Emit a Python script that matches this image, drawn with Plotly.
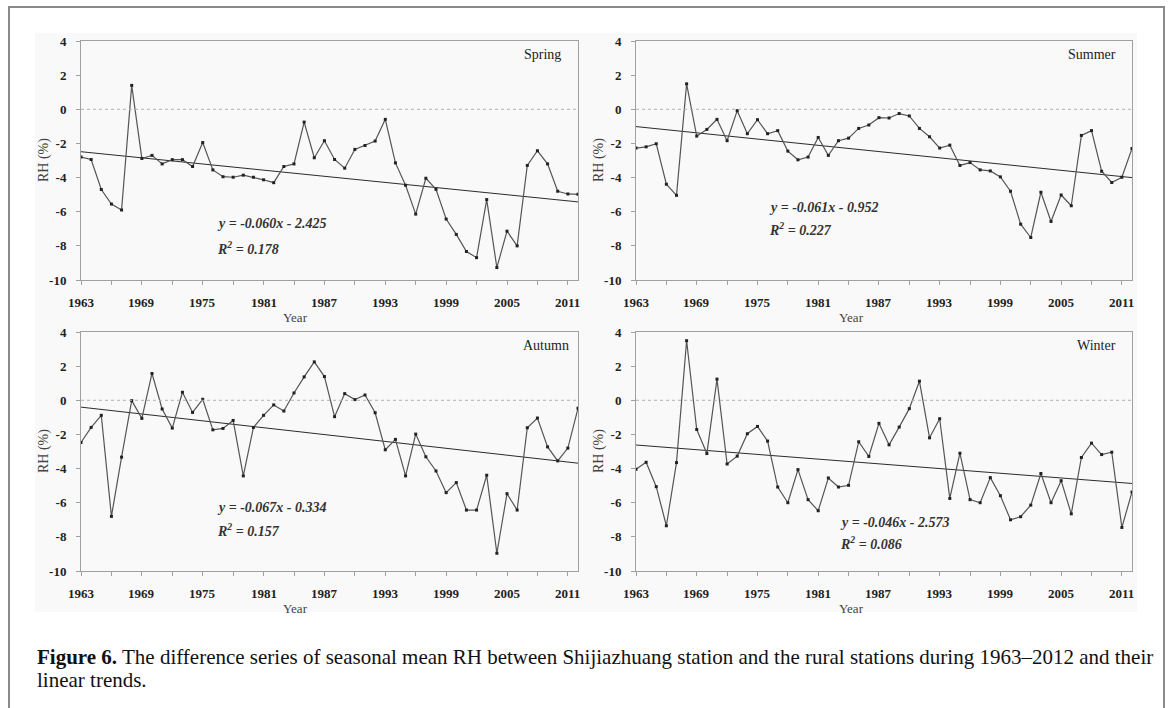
import plotly.graph_objects as go

years = list(range(1963, 2013))

spring = [-2.80, -2.94, -4.70, -5.55, -5.90, 1.40, -2.88, -2.70, -3.20, -2.95,
          -2.95, -3.35, -1.95, -3.55, -3.95, -3.98, -3.86, -3.98, -4.13, -4.30,
          -3.35, -3.20, -0.75, -2.84, -1.84, -2.94, -3.45, -2.35, -2.12, -1.86,
          -0.59, -3.14, -4.45, -6.14, -4.04, -4.69, -6.43, -7.33, -8.33, -8.69,
          -5.29, -9.27, -7.14, -8.00, -3.29, -2.43, -3.20, -4.80, -4.96, -4.98]

summer = [-2.27, -2.20, -2.02, -4.39, -5.04, 1.49, -1.57, -1.18, -0.59, -1.84,
          -0.08, -1.43, -0.61, -1.43, -1.25, -2.45, -2.96, -2.80, -1.65, -2.70,
          -1.84, -1.69, -1.12, -0.92, -0.49, -0.51, -0.25, -0.39, -1.12, -1.61,
          -2.27, -2.10, -3.29, -3.12, -3.55, -3.61, -3.96, -4.80, -6.73, -7.51,
          -4.86, -6.57, -5.02, -5.65, -1.53, -1.25, -3.63, -4.29, -3.98, -2.29]

autumn = [-2.47, -1.59, -0.88, -6.80, -3.33, -0.02, -1.06, 1.57, -0.51, -1.63,
          0.47, -0.71, 0.06, -1.73, -1.65, -1.18, -4.43, -1.59, -0.88, -0.27,
          -0.63, 0.43, 1.37, 2.25, 1.39, -0.96, 0.39, 0.04, 0.31, -0.73,
          -2.90, -2.29, -4.43, -1.98, -3.31, -4.14, -5.41, -4.82, -6.43, -6.43,
          -4.39, -8.96, -5.47, -6.43, -1.61, -1.04, -2.73, -3.55, -2.80, -0.47]

winter = [-4.04, -3.63, -5.06, -7.35, -3.65, 3.49, -1.71, -3.12, 1.24, -3.73,
          -3.27, -1.96, -1.53, -2.39, -5.08, -6.00, -4.06, -5.82, -6.47, -4.55,
          -5.08, -4.98, -2.43, -3.29, -1.35, -2.61, -1.57, -0.49, 1.12, -2.20,
          -1.08, -5.75, -3.10, -5.82, -6.00, -4.53, -5.59, -7.00, -6.82, -6.14,
          -4.29, -6.00, -4.71, -6.65, -3.35, -2.51, -3.18, -3.04, -7.45, -5.37]

season_names = ["Spring", "Summer", "Autumn", "Winter"]
slopes = [-0.060, -0.061, -0.067, -0.046]
intercepts = [-2.425, -0.952, -0.334, -2.573]
r2_values = ["0.178", "0.227", "0.157", "0.086"]

y_ticks = [4, 2, 0, -2, -4, -6, -8, -10]
y_tick_text = ["4", "2", "0", "-2", "-4", "-6", "-8", "-10"]
x_ticks = [1963, 1969, 1975, 1981, 1987, 1993, 1999, 2005, 2011]

W, H = 1171, 708
SERIF = "Liberation Serif"

# panel pixel boxes: (x_left, x_right, y_top, y_bottom)
boxes = [(81, 578, 41, 280), (636, 1132, 41, 280),
         (81, 578, 332, 571), (636, 1132, 332, 571)]
series = [spring, summer, autumn, winter]

fig = go.Figure()
shapes = []
annotations = []

eq_pos = [(215, 223, 248), (767, 207, 229), (215, 507, 530), (838, 522, 543)]
lab_pos = [(563, 54), (1118, 54), (571, 345), (1118, 345)]
year_pos = [(295, 317), (851, 317), (295, 608), (851, 608)]
rh_pos = [(44, 160), (599, 160), (44, 451), (599, 451)]
xlab_y = [302, 302, 593, 593]


def px(x):
    return x / W


def py(y):
    return 1 - y / H


tfont = dict(family=SERIF, size=13, color="#222222", weight="bold")

for i, (vals, box) in enumerate(zip(series, boxes)):
    xl, xr, yt, yb = box
    sfx = "" if i == 0 else str(i + 1)
    xa, ya = "x" + sfx, "y" + sfx
    trend = [slopes[i] * (k + 1) + intercepts[i] for k in range(len(years))]
    fig.add_trace(go.Scatter(x=years, y=trend, mode="lines",
                             line=dict(color="#2b2b2b", width=1),
                             xaxis=xa, yaxis=ya, showlegend=False, hoverinfo="skip"))
    fig.add_trace(go.Scatter(x=years, y=vals, mode="lines+markers",
                             line=dict(color="#555555", width=1.2),
                             marker=dict(symbol="square", size=3, color="#222222"),
                             xaxis=xa, yaxis=ya, showlegend=False))
    axis_common = dict(showline=True, linecolor="#a0a0a0", linewidth=1, mirror=True,
                       showgrid=False, zeroline=False, ticks="outside", ticklen=4,
                       tickcolor="#a0a0a0", automargin=False)
    fig.update_layout(**{
        ("xaxis" + sfx): dict(domain=[px(xl), px(xr)], range=[1963, 2012], anchor=ya,
                              tickvals=x_ticks, showticklabels=False,
                              minor=dict(tickvals=list(range(1966, 2012, 6)), ticks="outside",
                                         ticklen=4, tickcolor="#a0a0a0"),
                              **axis_common),
        ("yaxis" + sfx): dict(domain=[py(yb), py(yt)], range=[-10, 4], anchor=xa,
                              tickvals=y_ticks, ticktext=y_tick_text,
                              ticklabelstandoff=7, tickfont=tfont,
                              **axis_common),
    })
    for yr in x_ticks:
        annotations.append(dict(xref=xa, yref="paper", x=yr, y=py(xlab_y[i]),
                                xanchor="center", yanchor="middle", showarrow=False,
                                text=str(yr), font=tfont))
    shapes.append(dict(type="line", xref=xa + " domain", yref=ya, x0=0, x1=1, y0=0, y1=0,
                       line=dict(color="#b0b0b0", width=1, dash="dot")))
    ex, ey1, ey2 = eq_pos[i]
    sign = "-" if intercepts[i] < 0 else "+"
    eq = f"y = {slopes[i]:.3f}x {sign} {abs(intercepts[i]):.3f}"
    annotations.append(dict(xref="paper", yref="paper", x=px(ex), y=py(ey1),
                            xanchor="left", yanchor="middle", showarrow=False,
                            text=f"<b><i>{eq}</i></b>",
                            font=dict(family=SERIF, size=14, color="#333333")))
    annotations.append(dict(xref="paper", yref="paper", x=px(ex), y=py(ey2),
                            xanchor="left", yanchor="middle", showarrow=False,
                            text=f"<b><i>R<sup>2</sup> = {r2_values[i]}</i></b>",
                            font=dict(family=SERIF, size=14, color="#333333")))
    lx, ly = lab_pos[i]
    annotations.append(dict(xref="paper", yref="paper", x=px(lx), y=py(ly),
                            xanchor="right", yanchor="middle", showarrow=False,
                            text=season_names[i],
                            font=dict(family=SERIF, size=14, color="#222222")))
    yx, yy = year_pos[i]
    annotations.append(dict(xref="paper", yref="paper", x=px(yx), y=py(yy),
                            xanchor="center", yanchor="middle", showarrow=False,
                            text="Year",
                            font=dict(family=SERIF, size=13, color="#444444")))
    rx, ry = rh_pos[i]
    annotations.append(dict(xref="paper", yref="paper", x=px(rx), y=py(ry),
                            xanchor="center", yanchor="middle", showarrow=False,
                            text="RH (%)", textangle=-90,
                            font=dict(family=SERIF, size=14, color="#444444")))

shapes.insert(0, dict(type="rect", xref="paper", yref="paper", layer="below",
                      x0=px(35), x1=px(1137), y0=py(612), y1=py(33),
                      fillcolor="#f9f9f9", line=dict(width=0)))
shapes.append(dict(type="rect", xref="paper", yref="paper",
                   x0=px(9), x1=px(1164), y0=py(712), y1=py(7),
                   line=dict(color="#8a8a8a", width=2)))

annotations.append(dict(xref="paper", yref="paper", x=px(35), y=py(657),
                        xanchor="left", yanchor="middle", showarrow=False, align="left",
                        text="<b>Figure 6.</b> The difference series of seasonal mean RH between "
                             "Shijiazhuang station and the rural stations during 1963–2012 and their",
                        font=dict(family=SERIF, size=21, color="#111111")))
annotations.append(dict(xref="paper", yref="paper", x=px(35), y=py(680),
                        xanchor="left", yanchor="middle", showarrow=False, align="left",
                        text="linear trends.",
                        font=dict(family=SERIF, size=21, color="#111111")))

fig.update_layout(width=W, height=H,
                  margin=dict(l=0, r=0, t=0, b=0, pad=0, autoexpand=False),
                  paper_bgcolor="white", plot_bgcolor="rgba(0,0,0,0)",
                  shapes=shapes, annotations=annotations, showlegend=False)

fig.write_html("out.html", config={"displayModeBar": False},
               post_script="document.body.style.margin='0';document.body.style.overflow='hidden';")
